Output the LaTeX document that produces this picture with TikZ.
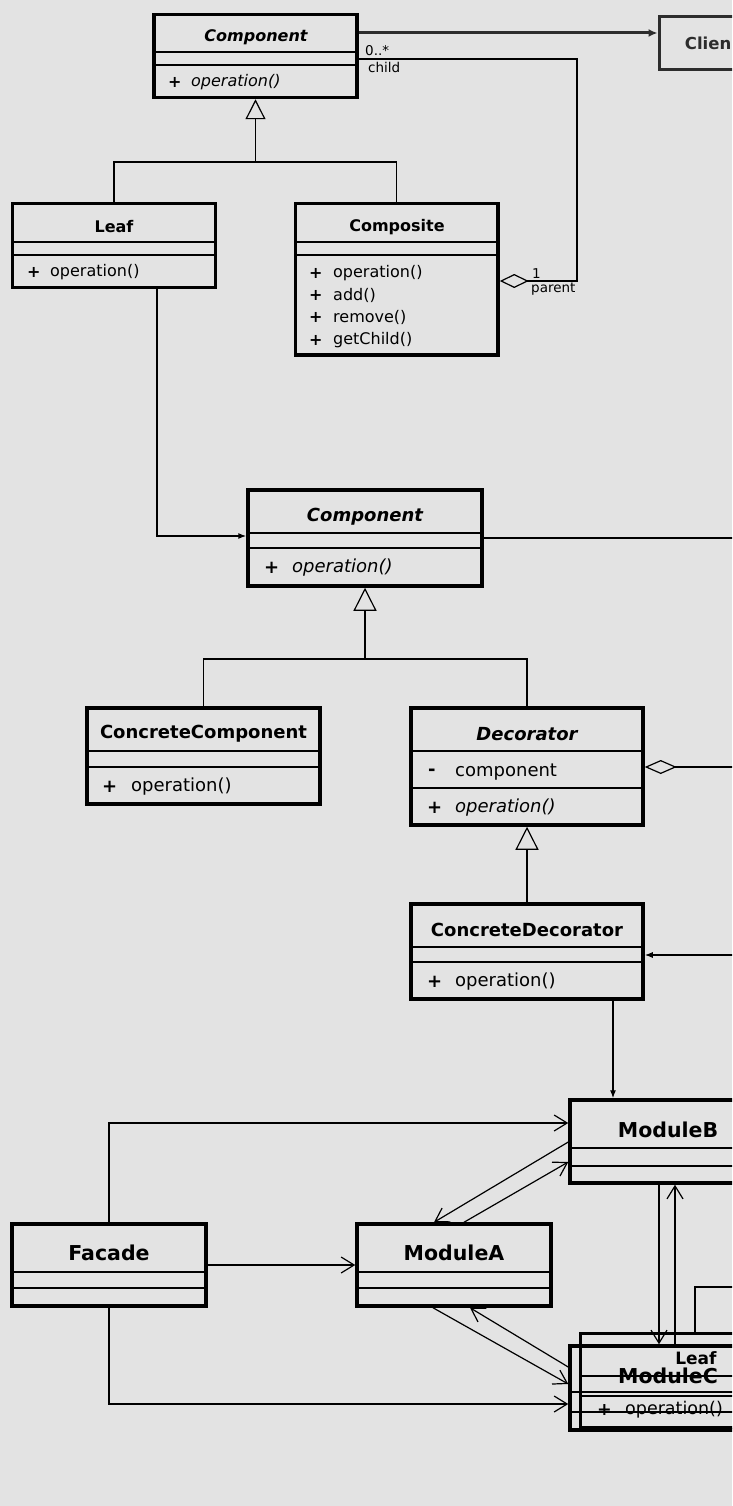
\documentclass[tikz,border=0pt]{standalone}
\usepackage{fontspec}
\setmainfont{DejaVu Sans}
\usetikzlibrary{arrows.meta,calc}
\definecolor{bgc}{RGB}{227,227,227}
\definecolor{clientc}{RGB}{45,45,45}
\newcommand\szA{\fontsize{16}{19}\selectfont}
\newcommand\szK{\fontsize{16.5}{19}\selectfont}
\newcommand\szL{\fontsize{13.5}{16}\selectfont}
\newcommand\szB{\fontsize{18}{22}\selectfont}
\newcommand\szC{\fontsize{20.5}{24}\selectfont}
\newcommand\szD{\fontsize{17.5}{21}\selectfont}
\newcommand\szE{\fontsize{17}{20}\selectfont}
\newcommand\umlbox[6]{\node[ubox,#6,minimum width={#4-#2},minimum height={#5-#3}] (#1) at ({(#2+#4)/2},{(#3+#5)/2}) {};}
\newcommand\hs[3]{\draw[sepl] (#1,#3) -- (#2,#3);}
\begin{document}
\begin{tikzpicture}[x=1pt,y=-1pt,
  ubox/.style={draw=black,line width=3.5pt,inner sep=0pt,fill=none},
  sepl/.style={line width=1.1pt},
  conn/.style={line width=1.2pt},
  oarr/.style={conn,-{Straight Barb[length=13pt,width=16pt,line width=1.2pt]}},
  farr/.style={conn,-{Latex[length=8pt,width=6pt]}},
  inhS/.style={conn,-{Triangle[open,length=20pt,width=20pt,line width=1.2pt]}},
  inhL/.style={conn,-{Triangle[open,length=23pt,width=23pt,line width=1.2pt]}},
  aggS/.style={conn,{Diamond[open,length=29pt,width=14pt,line width=1.2pt]}-},
  aggL/.style={conn,{Diamond[open,length=32pt,width=14pt,line width=1.2pt]}-},
  ttl/.style={inner sep=0pt},
  mem/.style={inner sep=0pt,anchor=west},
  lbl/.style={inner sep=0pt,anchor=west,font=\szL}]
\fill[bgc] (0,0) rectangle (732,1506);
\useasboundingbox (0,0) rectangle (732,1506);
\clip (0,0) rectangle (732,1506);

% ---------------- Composite pattern ----------------
\umlbox{cA}{154}{14.5}{357}{97.5}{}
\hs{154}{357}{52}\hs{154}{357}{65}
\node[ttl,font=\szA\bfseries\itshape] (cAt) at (256,37) {Component};
\node[mem,font=\szA\bfseries] (cAp) at (168,82) {+};
\node[mem,font=\szA\itshape] (cAm) at (191,82) {operation()};

\umlbox{cl}{659}{17}{800}{70}{draw=clientc,line width=3pt}
\node[inner sep=0pt,anchor=east,font=\szK\bfseries,text=clientc] (clt) at (731.5,43) {Clien};

\umlbox{lfA}{12.5}{203.5}{215.5}{287.5}{}
\hs{12.5}{215.5}{242}\hs{12.5}{215.5}{255}
\node[ttl,font=\szA\bfseries] (lfAt) at (114,227) {Leaf};
\node[mem,font=\szA\bfseries] (lfAp) at (27,272) {+};
\node[mem,font=\szA] (lfAm) at (50,272) {operation()};

\umlbox{cmp}{295.5}{203.5}{498}{355}{}
\hs{295.5}{498}{242}\hs{295.5}{498}{255}
\node[ttl,font=\szA\bfseries] (cmpt) at (397,227) {Composite};
\node[mem,font=\szA\bfseries] (cmpp1) at (309,273) {+};
\node[mem,font=\szA] (cmpm1) at (333,273) {operation()};
\node[mem,font=\szA\bfseries] (cmpp2) at (309,295) {+};
\node[mem,font=\szA] (cmpm2) at (333,295) {add()};
\node[mem,font=\szA\bfseries] (cmpp3) at (309,317) {+};
\node[mem,font=\szA] (cmpm3) at (333,317) {remove()};
\node[mem,font=\szA\bfseries] (cmpp4) at (309,340) {+};
\node[mem,font=\szA] (cmpm4) at (333,340) {getChild()};

\coordinate (clY) at (0,33);
\draw[line width=3pt,draw=clientc,-{Latex[length=9pt,width=8pt]}] (cA.east |- clY) -- (cl.west |- clY);

\coordinate (agB1) at (577,59);
\coordinate (agB2) at (577,281);
\draw[aggS] (cmp.east |- agB2) -- (agB2) -- (agB1) -- (cA.east |- agB1);
\node[lbl] (l1) at (365,51) {0..*};
\node[lbl] (l2) at (368,67) {child};
\node[lbl] (l3) at (532,274) {1};
\node[lbl] (l4) at (531,289) {parent};

\coordinate (jA) at (256,162);
\draw[inhS] (cA.south |- jA) -- (cA.south);
\draw[conn] (lfA.north) |- (jA) -| (cmp.north);

% ---------------- Decorator pattern ----------------
\umlbox{cB}{248}{490}{482}{586}{}
\hs{248}{482}{533}\hs{248}{482}{548}
\node[ttl,font=\szB\bfseries\itshape] (cBt) at (365,517) {Component};
\node[mem,font=\szB\bfseries] (cBp) at (264,568) {+};
\node[mem,font=\szB\itshape] (cBm) at (292,568) {operation()};

\coordinate (lcX) at (157,536);
\draw[farr] (lcX |- lfA.south) -- (lcX) -- (cB.west |- lcX);

\umlbox{ccp}{87}{708}{320}{804}{}
\hs{87}{320}{751}\hs{87}{320}{767}
\node[ttl,font=\szB\bfseries] (ccpt) at (203.5,734) {ConcreteComponent};
\node[mem,font=\szB\bfseries] (ccpp) at (102,787) {+};
\node[mem,font=\szB] (ccpm) at (131,787) {operation()};

\umlbox{dec}{411}{708}{643}{825}{}
\hs{411}{643}{751}\hs{411}{643}{788}
\node[ttl,font=\szB\bfseries\itshape] (dect) at (527,734) {Decorator};
\node[mem,font=\szB\bfseries] (decp1) at (428,772) {-};
\node[mem,font=\szB] (decm1) at (455,772) {component};
\node[mem,font=\szB\bfseries] (decp2) at (427,808) {+};
\node[mem,font=\szB\itshape] (decm2) at (455,808) {operation()};

\umlbox{cdc}{411}{904}{643}{999}{}
\hs{411}{643}{947}\hs{411}{643}{962}
\node[ttl,font=\szB\bfseries] (cdct) at (527,930) {ConcreteDecorator};
\node[mem,font=\szB\bfseries] (cdcp) at (427,982) {+};
\node[mem,font=\szB] (cdcm) at (455,982) {operation()};

\coordinate (rA) at (740,538);
\draw[conn] (cB.east) -- (rA);
\coordinate (jB) at (365,659);
\draw[inhL] (cB.south |- jB) -- (cB.south);
\draw[conn] (ccp.north) |- (jB) -| (dec.north);
\coordinate (rB) at (740,767);
\draw[aggL] (dec.east |- rB) -- (rB);
\draw[inhL] (cdc.north) -- (dec.south);
\coordinate (rC) at (740,955);
\draw[farr] (rC) -- (cdc.east |- rC);

% ---------------- Facade pattern ----------------
\umlbox{mB}{570}{1100}{800}{1183}{}
\hs{570}{800}{1148}\hs{570}{800}{1166}
\node[ttl,font=\szC\bfseries] (mBt) at (668,1130) {ModuleB};

\coordinate (cbX) at (613,1050);
\draw[farr] (cbX |- cdc.south) -- (cbX |- mB.north);

\umlbox{fac}{12}{1224}{206}{1306}{}
\hs{12}{206}{1272}\hs{12}{206}{1288}
\node[ttl,font=\szC\bfseries] (fact) at (109,1253) {Facade};

\umlbox{mA}{357}{1224}{551}{1306}{}
\hs{357}{551}{1272}\hs{357}{551}{1288}
\node[ttl,font=\szC\bfseries] (mAt) at (454,1253) {ModuleA};

\umlbox{lfB}{580}{1333}{800}{1427}{line width=3pt}
\hs{580}{800}{1376}\hs{580}{800}{1396}
\node[ttl,font=\szE\bfseries] (lfBt) at (696,1358) {Leaf};
\node[mem,font=\szD\bfseries] (lfBp) at (597,1410) {+};
\node[mem,font=\szD] (lfBm) at (625,1410) {operation()};

\umlbox{mC}{570}{1346}{800}{1430}{}
\hs{570}{800}{1392}\hs{570}{800}{1412}
\node[ttl,font=\szC\bfseries] (mCt) at (668,1376) {ModuleC};

\coordinate (fbY) at (0,1123);
\draw[oarr] (fac.north) |- (mB.west |- fbY);
\draw[oarr] (fac.east) -- (mA.west);
\coordinate (fcY) at (0,1404);
\draw[oarr] (fac.south) |- (mC.west |- fcY);
\coordinate (baY) at (0,1142);
\coordinate (baX) at (434,0);
\draw[oarr] (mB.west |- baY) -- (baX |- mA.north);
\coordinate (abY) at (0,1162);
\coordinate (abX) at (464,0);
\draw[oarr] (abX |- mA.north) -- (mB.west |- abY);
\coordinate (acY) at (0,1384);
\coordinate (acX) at (433,0);
\draw[oarr] (acX |- mA.south) -- (mC.west |- acY);
\coordinate (caY) at (0,1367);
\coordinate (caX) at (470,0);
\draw[oarr] (mC.west |- caY) -- (caX |- mA.south);
\coordinate (bcX) at (659,0);
\draw[oarr] (bcX |- mB.south) -- (bcX |- mC.north);
\coordinate (cbX2) at (675,0);
\draw[oarr] (cbX2 |- mC.north) -- (cbX2 |- mB.south);
\coordinate (lfT) at (695,1287);
\coordinate (rD) at (740,1287);
\draw[conn] (lfT |- lfB.north) -- (lfT) -- (rD);
\end{tikzpicture}
\end{document}
